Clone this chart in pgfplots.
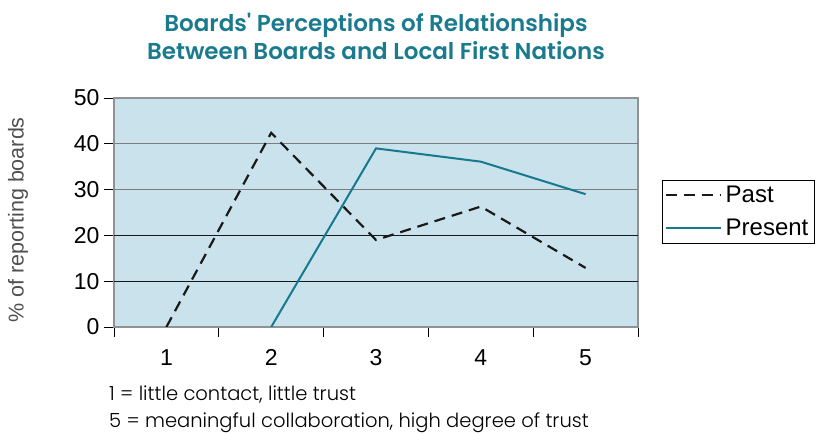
\documentclass[border=0pt]{standalone}
\usepackage{pgfplots}
\pgfplotsset{compat=1.18}
\usepackage{fontspec}
\setmainfont{Liberation Sans}
\newfontfamily\geo{Poppins Light}
\newfontfamily\geob{Poppins SemiBold}
\definecolor{teal1}{HTML}{16798E}
\definecolor{ttl}{HTML}{1B7B8E}
\definecolor{bg}{HTML}{CAE2EB}
\definecolor{brd}{HTML}{8F9396}
\definecolor{gridg}{HTML}{7D7D7D}
\definecolor{lbl}{HTML}{505050}
\begin{document}
\begin{tikzpicture}[x=1pt,y=1pt]
\path[use as bounding box] (0,0) rectangle (821,435);
\begin{axis}[
  scale only axis, width=524pt, height=229pt,
  at={(114pt,108pt)}, anchor=south west,
  xmin=0.5, xmax=5.5, ymin=0, ymax=50,
  axis background/.style={fill=bg},
  axis line style={draw=brd, line width=1.6pt},
  xtick={1,2,3,4,5}, major x tick style={draw=none},
  minor xtick={0.5,1.5,2.5,3.5,4.5,5.5},
  minor x tick style={draw=black, line width=0.8pt},
  ytick={0,10,20,30,40,50},
  y tick style={draw=black, line width=0.8pt},
  tick align=outside, major tick length=10pt, minor tick length=10pt,
  xtick pos=bottom, ytick pos=left,
  /pgf/number format/assume math mode=true,
  ticklabel style={font=\fontsize{23}{25}\selectfont, text=black},
  xticklabel style={yshift=-9pt},
  yticklabel style={xshift=-1pt},
  extra y ticks={10,20}, extra y tick labels={},
  extra y tick style={grid=major, major grid style={draw=black!90, line width=0.8pt}, major tick length=0pt},
  legend style={at={(1.046,0.642)}, anchor=north west, draw=black, line width=0.8pt,
    font=\fontsize{24}{26}\selectfont, row sep=11pt, inner xsep=2pt, inner ysep=4pt,
    legend cell align=left, nodes={inner xsep=4pt}},
  legend image code/.code={\draw[#1] (0pt,0pt) -- (55pt,0pt);},
]
\addplot[draw=gridg, line width=1pt, forget plot] coordinates {(0.5,30) (5.5,30)};
\addplot[draw=gridg, line width=1pt, forget plot] coordinates {(0.5,40) (5.5,40)};
\addplot[black!90, line width=2.2pt, dash pattern=on 11pt off 7pt] coordinates {(1,0) (2,42.4) (3,19.0) (4,26.3) (5,12.9)};
\addlegendentry{Past}
\addplot[teal1, line width=2pt] coordinates {(2,0) (3,39.0) (4,36.1) (5,29.0)};
\addlegendentry{Present}
\end{axis}
\node[text=ttl, font=\geob\fontsize{23}{28}\selectfont, align=center] at (376,425) [anchor=north] {Boards' Perceptions of Relationships\\Between Boards and Local First Nations};
\node[rotate=90, text=lbl, font=\fontsize{21.5}{24}\selectfont] at (18,215) {\% of reporting boards};
\node[anchor=base west, font=\geo\fontsize{19.5}{22}\selectfont, inner sep=0pt] at (109,34) {1 = little contact, little trust};
\node[anchor=base west, font=\geo\fontsize{19.5}{22}\selectfont, inner sep=0pt] at (109,7) {5 = meaningful collaboration, high degree of trust};
\end{tikzpicture}
\end{document}
